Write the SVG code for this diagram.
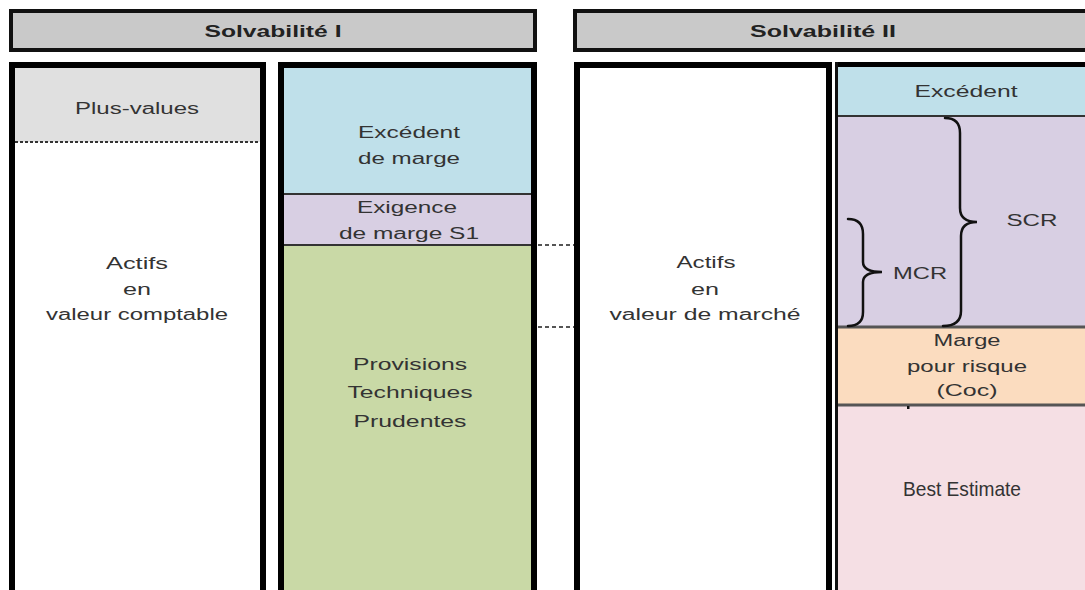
<svg xmlns="http://www.w3.org/2000/svg" width="1085" height="590" viewBox="0 0 1085 590">
  <style>
    .t { font-family: "Liberation Sans", Arial, sans-serif; font-size: 16px; fill: #333; text-anchor: middle; }
    .h { font-family: "Liberation Sans", Arial, sans-serif; font-size: 17px; font-weight: bold; fill: #222; text-anchor: middle; }
    .n { font-family: "Liberation Sans Narrow", "Liberation Sans", Arial, sans-serif; font-size: 21px; fill: #333; text-anchor: middle; }
    .hdr { fill: #c9c9c9; stroke: #111; stroke-width: 4; }
    .box { stroke: #000; stroke-width: 6; }
    .div { stroke: #333; stroke-width: 2; }
    .div2 { stroke: #555; stroke-width: 3; }
    .brace { fill: none; stroke: #111; stroke-width: 2.5; stroke-linecap: round; }
    .conn { stroke: #555; stroke-width: 2; stroke-dasharray: 4 3; }
  </style>
  <rect x="0" y="0" width="1085" height="590" fill="#ffffff"/>

  <g id="header-s1">
    <rect class="hdr" x="11" y="11" width="524" height="39"/>
    <text class="h" x="273" y="37" textLength="137" lengthAdjust="spacingAndGlyphs">Solvabilité I</text>
  </g>
  <g id="header-s2">
    <rect class="hdr" x="575" y="11" width="520" height="39"/>
    <text class="h" x="823" y="37" textLength="146" lengthAdjust="spacingAndGlyphs">Solvabilité II</text>
  </g>

  <g id="actifs-s1">
    <rect x="12" y="65" width="251" height="540" fill="#ffffff" class="box"/>
    <rect x="15" y="68" width="245" height="74" fill="#e0e0e0"/>
    <line x1="15" y1="142" x2="260" y2="142" stroke="#333" stroke-width="2" stroke-dasharray="3 2"/>
    <text class="t" x="137" y="114" textLength="124" lengthAdjust="spacingAndGlyphs">Plus-values</text>
    <text class="t" x="137" y="269" textLength="62" lengthAdjust="spacingAndGlyphs">Actifs</text>
    <text class="t" x="137" y="295" textLength="28" lengthAdjust="spacingAndGlyphs">en</text>
    <text class="t" x="137" y="320" textLength="182" lengthAdjust="spacingAndGlyphs">valeur comptable</text>
  </g>

  <g id="passif-s1">
    <rect x="281" y="65" width="253" height="540" fill="#c9d9a6" class="box"/>
    <rect x="284" y="68" width="247" height="126" fill="#bfe0ea"/>
    <rect x="284" y="194" width="247" height="51" fill="#d8cfe3"/>
    <line class="div" x1="284" y1="194" x2="531" y2="194"/>
    <line class="div" x1="284" y1="245" x2="531" y2="245"/>
    <text class="t" x="409" y="138" textLength="102" lengthAdjust="spacingAndGlyphs">Excédent</text>
    <text class="t" x="409" y="164" textLength="102" lengthAdjust="spacingAndGlyphs">de marge</text>
    <text class="t" x="407" y="213" textLength="100" lengthAdjust="spacingAndGlyphs">Exigence</text>
    <text class="t" x="409" y="239" textLength="140" lengthAdjust="spacingAndGlyphs">de marge S1</text>
    <text class="t" x="410" y="370" textLength="114" lengthAdjust="spacingAndGlyphs">Provisions</text>
    <text class="t" x="410" y="398" textLength="125" lengthAdjust="spacingAndGlyphs">Techniques</text>
    <text class="t" x="410" y="427" textLength="113" lengthAdjust="spacingAndGlyphs">Prudentes</text>
  </g>

  <g id="actifs-s2">
    <rect x="577" y="65" width="252" height="540" fill="#ffffff" class="box"/>
    <text class="t" x="706" y="268" textLength="59" lengthAdjust="spacingAndGlyphs">Actifs</text>
    <text class="t" x="705" y="295" textLength="28" lengthAdjust="spacingAndGlyphs">en</text>
    <text class="t" x="705" y="320" textLength="191" lengthAdjust="spacingAndGlyphs">valeur de marché</text>
  </g>

  <g id="passif-s2">
    <rect x="837" y="64" width="260" height="540" fill="#f5dfe4"/>
    <rect x="837" y="64" width="260" height="52" fill="#bfe0ea"/>
    <rect x="837" y="116" width="260" height="211" fill="#d8cfe3"/>
    <rect x="837" y="327" width="260" height="78" fill="#fbdcbf"/>
    <line class="div" x1="837" y1="116" x2="1085" y2="116"/>
    <line class="div2" x1="837" y1="327" x2="1085" y2="327"/>
    <line class="div2" x1="837" y1="405" x2="1085" y2="405"/>
    <line x1="835" y1="64.5" x2="1085" y2="64.5" stroke="#000" stroke-width="5"/>
    <line x1="836.5" y1="62" x2="836.5" y2="590" stroke="#111" stroke-width="3"/>
    <rect x="907" y="406" width="2.5" height="3" fill="#111"/>
    <text class="t" x="966" y="97" textLength="103" lengthAdjust="spacingAndGlyphs">Excédent</text>
    <path class="brace" d="M945,118 Q960,118 960,133 L960,208 Q960,222 977,222 Q961,222 961,236 L961,311 Q961,326 943,326"/>
    <path class="brace" d="M848,219 Q863,219 863,234 L863,262 Q863,272 882,272 Q863,272 863,282 L863,312 Q863,326 848,326"/>
    <text class="t" x="1032" y="226" textLength="51" lengthAdjust="spacingAndGlyphs">SCR</text>
    <text class="t" x="920" y="279" textLength="54" lengthAdjust="spacingAndGlyphs">MCR</text>
    <text class="t" x="967" y="346" textLength="67" lengthAdjust="spacingAndGlyphs">Marge</text>
    <text class="t" x="967" y="372" textLength="120" lengthAdjust="spacingAndGlyphs">pour risque</text>
    <text class="t" x="967" y="396" textLength="61" lengthAdjust="spacingAndGlyphs">(Coc)</text>
    <text class="n" x="962" y="496" textLength="118" lengthAdjust="spacingAndGlyphs">Best Estimate</text>
  </g>

  <g id="connectors">
    <line class="conn" x1="538" y1="245" x2="574" y2="245"/>
    <line class="conn" x1="538" y1="327" x2="574" y2="327"/>
  </g>
</svg>
